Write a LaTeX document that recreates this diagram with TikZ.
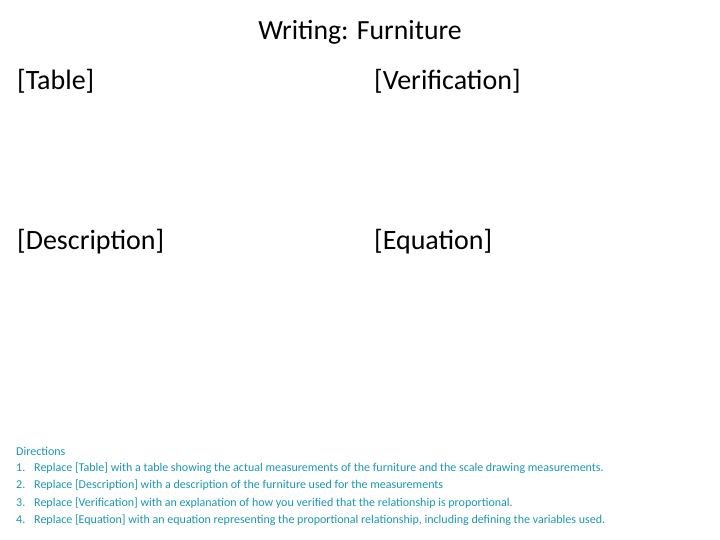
\documentclass[tikz,border=0pt]{standalone}
\usepackage{fontspec}
\setmainfont{Carlito}
\definecolor{dircol}{RGB}{25,150,180}
\begin{document}
\begin{tikzpicture}[x=1pt,y=-1pt,
  big/.style={anchor=west,inner sep=0pt,font=\fontsize{28}{32}\selectfont},
  dir/.style={anchor=west,inner sep=0pt,text=dircol,font=\fontsize{12}{14}\selectfont}]
\useasboundingbox (0,0) rectangle (720,540);
\node[inner sep=0pt,font=\fontsize{27.7}{32}\selectfont] (title) at (360,32) {Writing: Furniture};
\node[big] (tab) at (17,81) {[Table]};
\node[big] (ver) at (374,81) {[Verification]};
\node[big] (des) at (17,242) {[Description]};
\node[big] (equ) at (374,242) {[Equation]};
\node[dir] (d0) at (16,451) {Directions};
\node[dir] (n1) at (16,468) {1.};
\node[dir] (t1) at (34,468) {Replace [Table] with a table showing the actual measurements of the furniture and the scale drawing measurements.};
\node[dir] (n2) at (16,485) {2.};
\node[dir] (t2) at (34,485) {Replace [Description] with a description of the furniture used for the measurements};
\node[dir] (n3) at (16,503) {3.};
\node[dir] (t3) at (34,503) {Replace [Verification] with an explanation of how you verified that the relationship is proportional.};
\node[dir] (n4) at (16,520) {4.};
\node[dir] (t4) at (34,520) {Replace [Equation] with an equation representing the proportional relationship, including defining the variables used.};
\end{tikzpicture}
\end{document}
